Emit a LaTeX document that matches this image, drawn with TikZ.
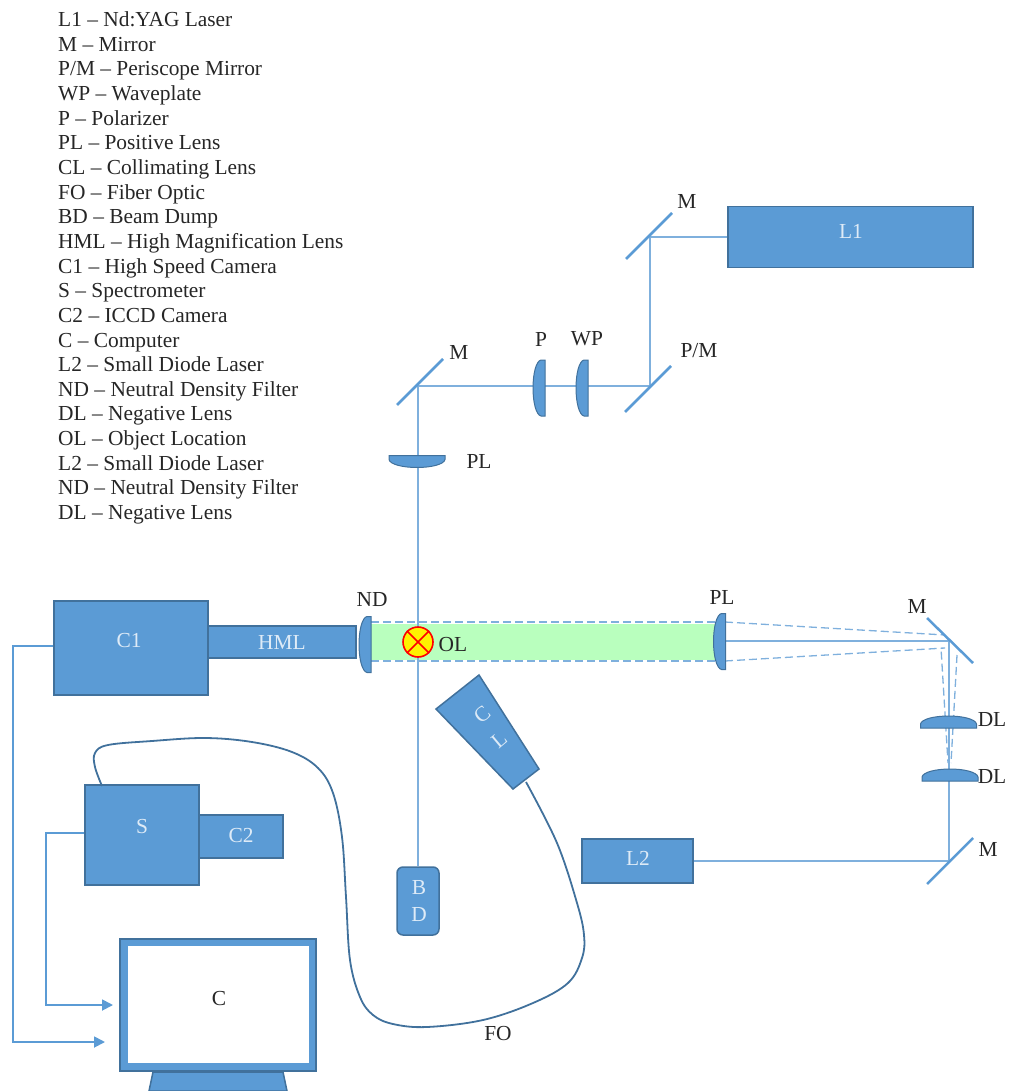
\documentclass[tikz,border=0pt]{standalone}
\usepackage{fontspec}
\setmainfont{Liberation Serif}
\usetikzlibrary{arrows.meta}
\definecolor{partblue}{HTML}{5B9BD5}
\definecolor{partedge}{HTML}{41719C}
\definecolor{beamblue}{HTML}{7FB0DD}
\definecolor{bandgreen}{HTML}{B9FFBE}
\tikzset{
  plain/.style={font=\fontsize{21.4}{24.65}\selectfont,text=black!85,inner sep=0pt},
  legend/.style={plain,align=left,anchor=north west},
  part/.style={draw=partedge,fill=partblue,line width=1.5pt,inner sep=0pt},
  parttext/.style={plain,text=white!80!partblue},
  beam/.style={draw=beamblue,line width=1.5pt},
  beamdash/.style={draw=beamblue,line width=1.3pt,dash pattern=on 8pt off 4pt},
  mirror/.style={draw=partblue,line width=2.5pt},
  signal/.style={draw=partblue,line width=1.8pt,-{Triangle[length=11pt,width=11pt]}},
  fiber/.style={draw=partedge,line width=1.8pt},
  lens/.pic={\draw[draw=partedge,fill=partblue,line width=1pt]
    (6,-28)--(6,28)--(2,28)..controls (-3,27) and (-6,14)..(-6,0)
    ..controls (-6,-14) and (-3,-27)..(2,-28)--cycle;}
}
\begin{document}
\begin{tikzpicture}[x=1pt,y=-1pt]
\useasboundingbox (0,0) rectangle (1012,1091);
\node[legend] (legendlist) at (58,11.5) {L1 – Nd:YAG Laser\\M – Mirror\\P/M – Periscope Mirror\\WP – Waveplate\\P – Polarizer\\PL – Positive Lens\\CL – Collimating Lens\\FO – Fiber Optic\\BD – Beam Dump\\HML – High Magnification Lens\\C1 – High Speed Camera\\S – Spectrometer\\C2 – ICCD Camera\\C – Computer\\L2 – Small Diode Laser\\ND – Neutral Density Filter\\DL – Negative Lens\\OL – Object Location\\L2 – Small Diode Laser\\ND – Neutral Density Filter\\DL – Negative Lens};
\fill[bandgreen] (363,624) rectangle (716,660);
\node[part,minimum width=245pt,minimum height=61pt] (L1) at (850.5,237) {};
\node[part,minimum width=148pt,minimum height=32pt] (HML) at (282,642) {};
\node[part,minimum width=154pt,minimum height=94pt] (C1) at (131,648) {};
\node[part,minimum width=84pt,minimum height=43pt] (C2) at (241,836.5) {};
\node[part,minimum width=114pt,minimum height=100pt] (S) at (142,835) {};
\node[part,minimum width=111pt,minimum height=44pt] (L2) at (637.5,861) {};
\node[part,rounded corners=6pt,minimum width=42pt,minimum height=68pt] (BD) at (418,901) {};
\coordinate (mirrorL1) at (650,237);
\coordinate (mirrorPM) at (650,386);
\coordinate (mirrorPL) at (418,386);
\coordinate (mirrorOut) at (949,641);
\coordinate (mirrorL2) at (949,861);
\coordinate (lensPLout) at (725,641);
\draw[beam] (L1.west)--(mirrorL1)--(mirrorPM)--(mirrorPL)--(BD.north);
\draw[beam] (lensPLout)--(mirrorOut)--(mirrorL2)--(L2.east);
\draw[beamdash] (371,622)--(718,622);
\draw[beamdash] (371,661)--(718,661);
\draw[beamdash] (725,622)--(945,635);
\draw[beamdash] (725,661)--(945,648)--(941,648)--(948,763);
\draw[beamdash] (957,655)--(951,763);
\draw[mirror] (626,259)--(672,213);
\draw[mirror] (625,412)--(671,366);
\draw[mirror] (397,405)--(443,359);
\draw[mirror] (927,618)--(973,663);
\draw[mirror] (927,884)--(973,838);
\pic at (539,388) {lens};
\pic at (582,388) {lens};
\pic[rotate=90] at (417,461.5) {lens};
\pic at (365,644.5) {lens};
\pic at (719.5,641.5) {lens};
\pic[rotate=-90] at (948.5,722) {lens};
\pic[rotate=-90] at (950,775) {lens};
\node[circle,draw=red,fill=yellow,line width=1.6pt,minimum size=30pt,inner sep=0pt] (OL) at (418,642) {};
\draw[red,line width=1.6pt] (OL.north west)--(OL.south east) (OL.north east)--(OL.south west);
\draw[part] (479,675)--(436,709)--(513,789)--(539,769)--cycle;
\coordinate (fiberS) at (102,786);
\coordinate (fiberCL) at (526,782);
\draw[fiber] plot[smooth,tension=0.6] coordinates {(fiberS) (95,767) (95,753) (108,745) (152,741) (205,738) (252,742) (292,752) (318,768) (333,793) (342,837) (346,897) (350,960) (360,997) (373,1015) (393,1024) (427,1027) (483,1020) (533,1003) (568,983) (582,958) (584,935) (577,903) (557,843) (fiberCL)};
\node[part,minimum width=196pt,minimum height=132pt] (C) at (218,1005) {};
\fill[white] (128,946) rectangle (309,1063);
\draw[part] (153,1072)--(149,1091)--(287,1091)--(283,1072)--cycle;
\coordinate (inputS) at (113,1005);
\coordinate (inputC1) at (105,1042);
\draw[signal] ([yshift=2pt]S.west)-|(46,1005)--(inputS);
\draw[signal] ([yshift=2pt]C1.west)-|(13,1042)--(inputC1);
\node[parttext] (textL1) at (851,231) {L1};
\node[parttext] (textHML) at (282,642) {HML};
\node[parttext] (textC1) at (129,641) {C1};
\node[parttext] (textS) at (142,827) {S};
\node[parttext] (textC2) at (241,836) {C2};
\node[parttext] (textL2) at (638,858) {L2};
\node[parttext] (textB) at (419,888) {B};
\node[parttext] (textD) at (419,915) {D};
\node[parttext,rotate=40] (textCa) at (482,715) {C};
\node[parttext,rotate=40] (textCb) at (499,740) {L};
\node[plain] (textM1) at (687,201) {M};
\node[plain] (textPM) at (699,351) {P/M};
\node[plain] (textP) at (541,339) {P};
\node[plain] (textWP) at (587,339) {WP};
\node[plain] (textM2) at (459,352) {M};
\node[plain] (textPL1) at (479,461) {PL};
\node[plain] (textND) at (372,600) {ND};
\node[plain] (textOL) at (453,645) {OL};
\node[plain] (textPL2) at (722,597) {PL};
\node[plain] (textM3) at (917,606) {M};
\node[plain] (textDL1) at (992,720) {DL};
\node[plain] (textDL2) at (992,777) {DL};
\node[plain] (textM4) at (988,849) {M};
\node[plain] (textFO) at (498,1034) {FO};
\node[plain] (textC) at (219,999) {C};
\end{tikzpicture}
\end{document}
